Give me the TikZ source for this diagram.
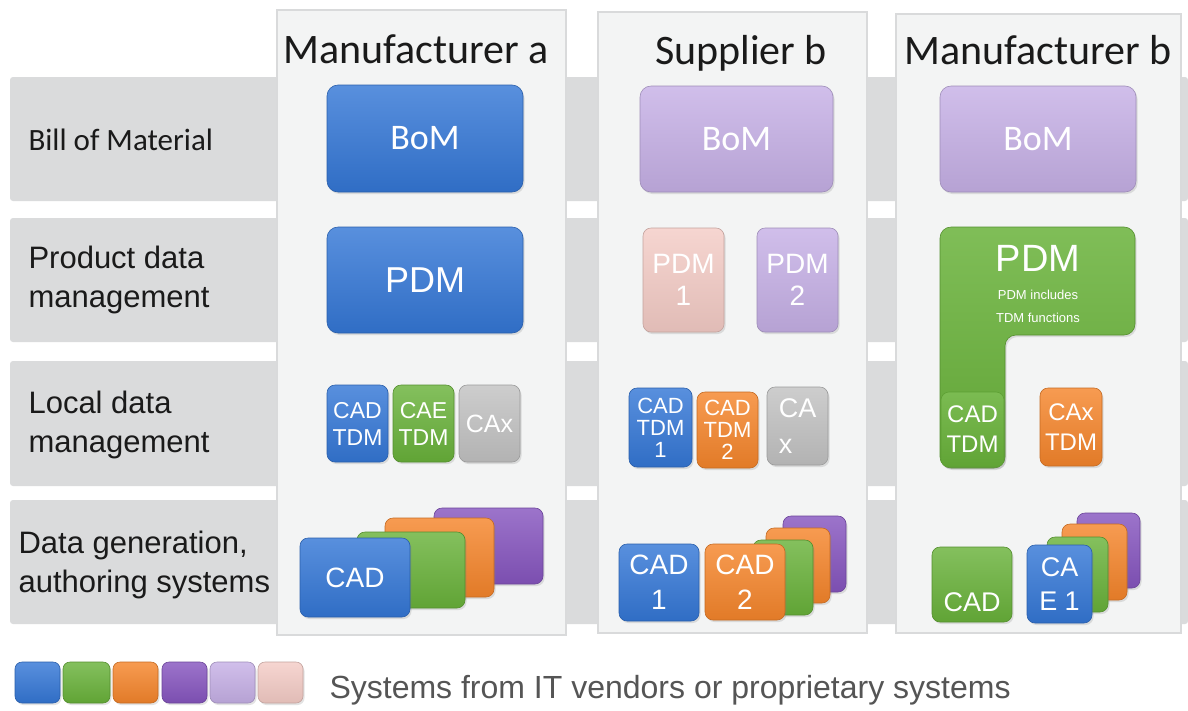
\documentclass[tikz,border=0pt]{standalone}
\usepackage{fontspec}
\setmainfont{Liberation Sans}
\newfontfamily\carl{Carlito}
\usetikzlibrary{shadows}
\definecolor{cblue}{HTML}{3477D6}
\definecolor{cgreen}{HTML}{69B23A}
\definecolor{corange}{HTML}{F5852B}
\definecolor{cpurple}{HTML}{8655BF}
\definecolor{clav}{HTML}{C6B0E6}
\definecolor{cpink}{HTML}{F4CCC6}
\definecolor{cgray}{HTML}{C2C2C2}
\definecolor{bandgray}{HTML}{DADBDC}
\definecolor{panelfill}{HTML}{F3F4F4}
\definecolor{panelborder}{HTML}{D9DADB}
\definecolor{labelblack}{HTML}{1A1A1A}
\definecolor{legendgray}{HTML}{555555}
\newcommand\sysbox[8][]{%
  \node[sys=#3, minimum width={(#6-#4)*1pt}, minimum height={(#7-#5)*1pt}, #1]
    (#2) at ({(#4+#6)/2},{(#5+#7)/2}) {#8};}
\tikzset{
  fnt/.style 2 args={font=\fontsize{#1}{#2}\selectfont},
  carl/.style 2 args={font=\carl\fontsize{#1}{#2}\selectfont},
  sys/.style={rounded corners=8pt, inner sep=0pt, outer sep=0pt,
    draw=#1!80!black, line width=0.6pt,
    top color=#1!82!white, middle color=#1, bottom color=#1!92!black,
    text=white, align=center,
    drop shadow={opacity=0.22, shadow xshift=1.5pt, shadow yshift=-2pt}},
  band/.style={fill=bandgray, rounded corners=3pt},
  panel/.style={fill=panelfill, draw=panelborder, line width=2pt},
  rowlabel/.style={anchor=west, align=left, text=labelblack, fnt={31}{39}},
  title/.style={anchor=base, text=labelblack, carl={42}{46}},
}
\begin{document}
\begin{tikzpicture}[x=1pt,y=-1pt]
\useasboundingbox (0,0) rectangle (1188,710);
\fill[white] (0,0) rectangle (1188,710);
% row bands
\fill[band] (10,77) rectangle (1188,201);
\fill[band] (10,218) rectangle (1188,342);
\fill[band] (10,361) rectangle (1188,486);
\fill[band] (10,500) rectangle (1188,624);
% column panels
\filldraw[panel] (277,10) rectangle (566,635);
\filldraw[panel] (598,12) rectangle (867,633);
\filldraw[panel] (896,14) rectangle (1181,633);
% row labels
\node[anchor=base west, text=labelblack, carl={31}{36}] (lbom) at (25,150) {Bill of Material};
\node[rowlabel] (lpdm) at (25,280) {Product data\\management};
\node[rowlabel] (lldm) at (25,425) {Local data\\management};
\node[rowlabel] (lgen) at (15,565) {Data generation,\\authoring systems};
% titles
\node[title] (t1) at (416,63) {Manufacturer a};
\node[title] (t2) at (741,64) {Supplier b};
\node[title] (t3) at (1038,64) {Manufacturer b};
% column 1
\sysbox[carl={36}{40}, rounded corners=11pt]{bom1}{cblue}{327}{85}{523}{192}{BoM}
\sysbox[fnt={36}{40}, rounded corners=11pt]{pdm1}{cblue}{327}{227}{523}{333}{PDM}
\sysbox[fnt={23}{27}]{cadtdm1}{cblue}{327}{385}{388}{462}{CAD\\TDM}
\sysbox[fnt={23}{27}]{caetdm1}{cgreen}{393}{385}{454}{462}{CAE\\TDM}
\sysbox[fnt={25}{28}]{cax1}{cgray}{459}{385}{520}{462}{CAx}
\sysbox{st1d}{cpurple}{434}{508}{543}{584}{}
\sysbox{st1c}{corange}{385}{518}{494}{597}{}
\sysbox{st1b}{cgreen}{357}{532}{465}{608}{}
\sysbox[fnt={28}{32}]{cad1}{cblue}{300}{538}{410}{617}{CAD}
% column 2
\sysbox[carl={36}{40}, rounded corners=11pt]{bom2}{clav}{640}{86}{833}{192}{BoM}
\sysbox[fnt={28}{32}]{pdm21}{cpink}{643}{228}{724}{332}{PDM\\1}
\sysbox[fnt={28}{32}]{pdm22}{clav}{757}{228}{838}{332}{PDM\\2}
\sysbox[fnt={22}{22}]{cadtdm21}{cblue}{629}{388}{692}{467}{CAD\\TDM\\1}
\sysbox[fnt={22}{22}]{cadtdm22}{corange}{697}{392}{758}{468}{CAD\\TDM\\2}
\sysbox[fnt={27}{36}, align=left]{cax2}{cgray}{767}{387}{828}{465}{CA\\x}
\sysbox{st2d}{cpurple}{783}{516}{846}{592}{}
\sysbox{st2c}{corange}{766}{528}{830}{603}{}
\sysbox{st2b}{cgreen}{753}{540}{813}{615}{}
\sysbox[fnt={28}{35}]{cad22}{corange}{705}{544}{785}{620}{CAD\\2}
\sysbox[fnt={28}{35}]{cad21}{cblue}{619}{544}{699}{621}{CAD\\1}
% column 3
\sysbox[carl={36}{40}, rounded corners=11pt]{bom3}{clav}{940}{86}{1136}{192}{BoM}
\path[rounded corners=11pt, draw=cgreen!80!black, line width=0.6pt,
  top color=cgreen!85!white, bottom color=cgreen!92!black,
  drop shadow={opacity=0.22, shadow xshift=1.5pt, shadow yshift=-2pt}]
  (940,227) -- (1135,227) -- (1135,335) -- (1005,335) -- (1005,468) -- (940,468) -- cycle;
\node[text=white, fnt={38}{40}] (pdm3) at (1038,258) {PDM};
\node[text=white, fnt={13}{23}, align=center] (pdm3note) at (1038,306) {PDM includes\\TDM functions};
\sysbox[fnt={24}{30}, drop shadow={opacity=0}, draw=cgreen!90!black, top color=cgreen!88!white]{cadtdm3}{cgreen}{941}{392}{1004}{467}{CAD\\TDM}
\sysbox[fnt={24}{30}]{caxtdm3}{corange}{1040}{388}{1102}{466}{CAx\\TDM}
\sysbox{st3d}{cpurple}{1077}{513}{1140}{588}{}
\sysbox{st3c}{corange}{1062}{524}{1127}{600}{}
\sysbox{st3b}{cgreen}{1047}{537}{1108}{612}{}
\sysbox[fnt={27}{34}]{cae3}{cblue}{1027}{545}{1092}{623}{CA\\E 1}
\sysbox[fnt={27}{54}]{cad3}{cgreen}{932}{547}{1012}{622}{\mbox{}\\CAD}
% legend
\sysbox[rounded corners=7pt]{lg1}{cblue}{15}{662}{60}{703}{}
\sysbox[rounded corners=7pt]{lg2}{cgreen}{63}{662}{110}{703}{}
\sysbox[rounded corners=7pt]{lg3}{corange}{113}{662}{158}{703}{}
\sysbox[rounded corners=7pt]{lg4}{cpurple}{162}{662}{207}{703}{}
\sysbox[rounded corners=7pt]{lg5}{clav}{210}{662}{255}{703}{}
\sysbox[rounded corners=7pt]{lg6}{cpink}{258}{662}{303}{703}{}
\node[anchor=west, text=legendgray, fnt={32}{34}] (legend) at (326,690) {Systems from IT vendors or proprietary systems};
\end{tikzpicture}
\end{document}
